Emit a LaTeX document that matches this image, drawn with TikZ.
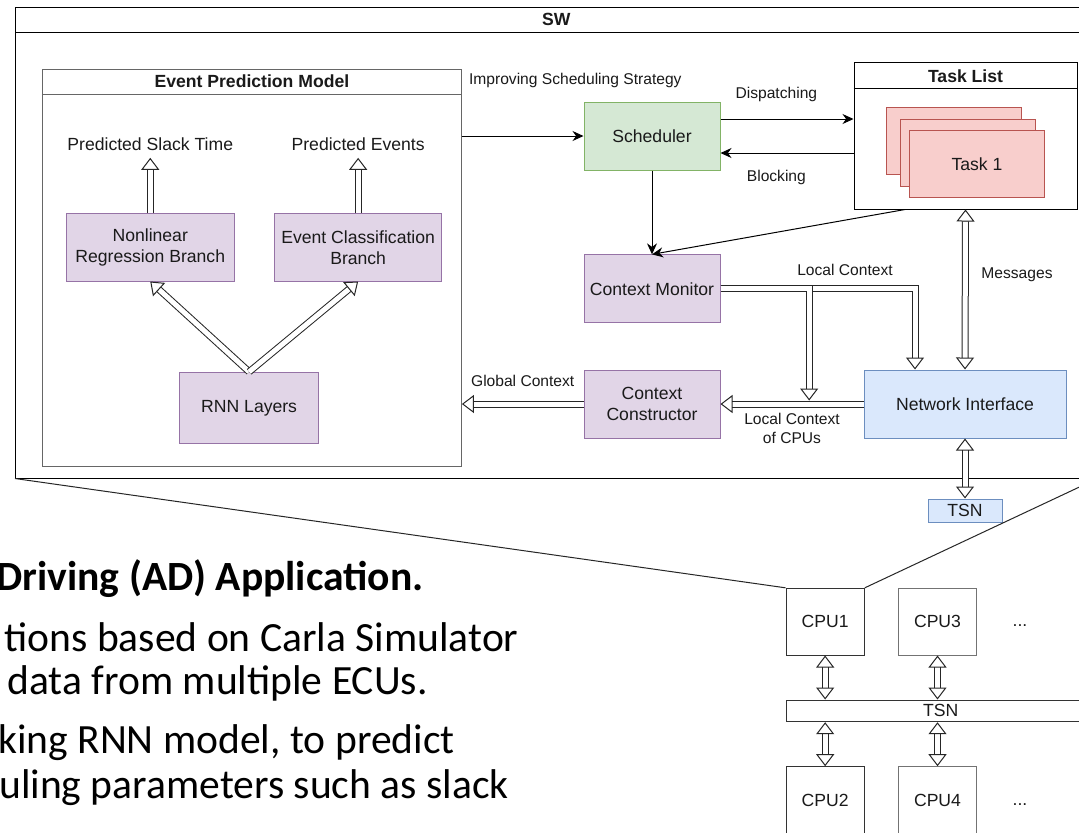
\documentclass[tikz,border=0pt]{standalone}
\usepackage{fontspec}
\setmainfont{Liberation Sans}
\newfontfamily\slidefont{Carlito}
\usetikzlibrary{arrows.meta,calc}
\definecolor{Ink}{HTML}{1A1A1A}
\definecolor{Frame}{HTML}{666666}
\definecolor{Lilac}{HTML}{E1D5E7}
\definecolor{LilacEdge}{HTML}{9673A6}
\definecolor{Mint}{HTML}{D5E8D4}
\definecolor{MintEdge}{HTML}{82B366}
\definecolor{Rose}{HTML}{F8CECC}
\definecolor{RoseEdge}{HTML}{B85450}
\definecolor{Sky}{HTML}{DAE8FC}
\definecolor{SkyEdge}{HTML}{6C8EBF}
\newcommand\boxfont{\fontsize{8.8}{10.5}\selectfont}
\newcommand\lblfont{\fontsize{7.8}{9.3}\selectfont}

\begin{document}
\begin{tikzpicture}[x=.5pt,y=-.5pt,
  hollowhead/.tip={Triangle[open,length=6pt,width=9pt,line width=.5pt]},
  frame/.style={draw=black,line width=.5pt},
  title/.style={font=\boxfont\bfseries,text=Ink},
  box/.style={draw,line width=.5pt,align=center,inner sep=1pt,font=\boxfont,text=Ink},
  lilac/.style={box,fill=Lilac,draw=LilacEdge},
  mint/.style={box,fill=Mint,draw=MintEdge},
  rose/.style={box,fill=Rose,draw=RoseEdge,minimum width=67.5pt,minimum height=33.5pt},
  sky/.style={box,fill=Sky,draw=SkyEdge},
  cell/.style={minimum width=68pt,minimum height=34pt},
  cpu/.style={box,minimum width=39.15pt,minimum height=33.35pt},
  outlbl/.style={font=\boxfont,text=Ink,inner sep=3.6pt},
  lbl/.style={font=\lblfont,text=Ink},
  slide/.style={inner sep=0pt,anchor=base east,font=\slidefont\fontsize{20.8}{25}\selectfont},
  flow/.style={draw=black,line width=.5pt,-{Stealth[length=5.5pt,width=5pt]}},
  hollow/.style={draw=black!85,line width=.5pt,double=white,double distance=2.5pt,-hollowhead},
  hollowboth/.style={hollow,hollowhead-hollowhead}]
  \useasboundingbox (0,0) rectangle (1079,832);
  \clip (0,0) rectangle (1079,832);
  \fill[white] (0,0) rectangle (1079,832);

  \node[frame,minimum width=540.75pt,minimum height=235.35pt] (sw) at (556.25,242.65) {};
  \draw[frame] ([yshift=-13pt]sw.north west) -- ([yshift=-13pt]sw.north east);
  \node[title] (swtitle) at ([yshift=-6.5pt]sw.north) {SW};

  \node[frame,draw=Frame,minimum width=209.5pt,minimum height=198.35pt] (epm) at (251.9,267.65) {};
  \draw[frame,draw=Frame] ([yshift=-12.85pt]epm.north west) -- ([yshift=-12.85pt]epm.north east);
  \node[title] (epmtitle) at ([yshift=-6.4pt]epm.north) {Event Prediction Model};
  \node[outlbl] (slack) at (150.25,143.75) {Predicted Slack Time};
  \node[outlbl] (pevt) at (358.15,143.75) {Predicted Events};
  \node[lilac,minimum width=83.75pt,minimum height=33.65pt] (nonlin) at (150.25,247.35) {Nonlinear\\Regression Branch};
  \node[lilac,minimum width=83.75pt,minimum height=33.65pt] (evcls) at (358.15,247.35) {Event Classification\\Branch};
  \node[lilac,minimum width=69.35pt,minimum height=35.65pt] (rnn) at (249.15,407.95) {RNN Layers};

  \node[mint,cell] (sched) at (652,136) {Scheduler};
  \node[lilac,cell] (cmon) at (652,288.85) {Context Monitor};
  \node[lilac,cell] (cc) at (652,404) {Context\\Constructor};
  \node[sky,minimum width=101pt,minimum height=34pt] (ni) at (965,404) {Network Interface};
  \node[sky,minimum width=37pt,minimum height=11.5pt,inner sep=0pt] (tsn) at (965,510.5) {TSN};

  \node[frame,minimum width=111.5pt,minimum height=73.15pt] (tl) at (965.5,135.85) {};
  \draw[frame] ([yshift=-13pt]tl.north west) -- ([yshift=-13pt]tl.north east);
  \node[title] (tltitle) at ([yshift=-6.8pt]tl.north) {Task List};
  \node[rose] (t1) at (954,141) {};
  \node[rose] (t2) at (968,152.5) {};
  \node[rose] (t3) at (977,164) {Task 1};

  \node[lbl,anchor=west] (improve) at (462,80) {Improving Scheduling Strategy};
  \draw[flow] (epm.east |- sched.west) -- (sched.west);
  \coordinate (dsp) at ([yshift=8.5pt]sched.east);
  \coordinate (blk) at ([yshift=-8.5pt]sched.east);
  \draw[flow] (dsp) -- (dsp -| tl.west) node[lbl,pos=.42,above=5pt] {Dispatching};
  \draw[flow] (blk -| tl.west) -- (blk) node[lbl,pos=.58,below=5pt] {Blocking};
  \draw[flow] (sched.south) -- (cmon.north);
  \draw[flow] ([xshift=-30.25pt]tl.south) -- (cmon.north);

  \draw[hollow] (nonlin.north) -- (slack.south);
  \draw[hollow] (evcls.north) -- (pevt.south);
  \draw[hollow] (rnn.north) -- (nonlin.south);
  \draw[hollow] (rnn.north) -- (evcls.south);

  \coordinate (merge) at ($(cc.east)!.62!(ni.west)+(0,-3.5)$);
  \draw[hollow] (cmon.east) -| ([xshift=-25pt]ni.north) node[lbl,pos=.32,above=3pt] {Local Context};
  \draw[hollow] (ni.west) -- (cc.east) node[lbl,midway,below=1pt,align=center] {Local Context\\of CPUs};
  \draw[hollow] (cmon.east) -| (merge);
  \draw[hollowboth] (tl.south) -- (ni.north) node[lbl,pos=.41,right=4.5pt] {Messages};
  \draw[hollow] (cc.west) -- (cc.west -| epm.east) node[lbl,midway,above=5pt] {Global Context};
  \draw[hollowboth] (ni.south) -- (tsn.north);

  \node[cpu,draw=black!80] (cpu1) at (825.15,621.65) {CPU1};
  \node[cpu,draw=black!55] (cpu3) at (937.5,621.65) {CPU3};
  \node[box,draw=black!80,minimum width=154.7pt,minimum height=10.85pt,inner sep=0pt] (bus) at (940.7,710.85) {TSN};
  \node[cpu,draw=black!80] (cpu2) at (825.15,800.05) {CPU2};
  \node[cpu,draw=black!55] (cpu4) at (937.5,800.05) {CPU4};
  \node[font=\boxfont,text=Ink] (more1) at (1020,626) {...};
  \node[font=\boxfont,text=Ink] (more2) at (1020,805) {...};
  \draw[hollowboth] (cpu1.south) -- (cpu1.south |- bus.north);
  \draw[hollowboth] (cpu3.south) -- (cpu3.south |- bus.north);
  \draw[hollowboth] (cpu2.north |- bus.south) -- (cpu2.north);
  \draw[hollowboth] (cpu4.north |- bus.south) -- (cpu4.north);

  \draw[line width=.5pt,draw=black!85] (sw.south west) -- (cpu1.north west);
  \draw[line width=.5pt,draw=black!85] (sw.south east) -- (cpu1.north east);

  \node[slide,font=\slidefont\fontsize{20.8}{25}\selectfont\bfseries] (head) at (424,590) {Driving (AD) Application.};
  \node[slide] (line1) at (519,651) {tions based on Carla Simulator};
  \node[slide] (line2) at (428,694) {data from multiple ECUs.};
  \node[slide] (line3) at (455,753) {king RNN model, to predict};
  \node[slide] (line4) at (509,798) {uling parameters such as slack};
\end{tikzpicture}
\end{document}
